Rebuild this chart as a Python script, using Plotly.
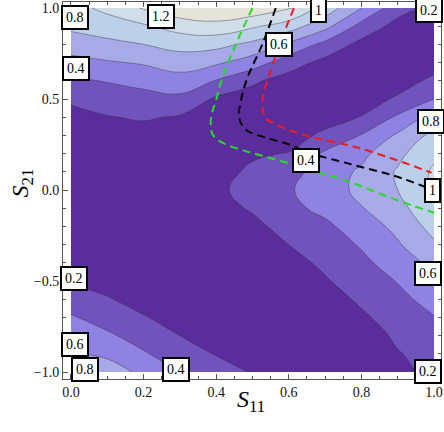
import plotly.graph_objects as go

# grid of the map (columns = S11, rows = S21 from top to bottom)
s11 = [0.0, 0.1, 0.2, 0.3, 0.4, 0.5, 0.6, 0.7, 0.8, 0.9, 1.0]
s21_top_down = [1.0, 0.9, 0.8, 0.7, 0.6, 0.5, 0.4, 0.3, 0.2, 0.1, 0.0,
                -0.1, -0.2, -0.3, -0.4, -0.5, -0.6, -0.7, -0.8, -0.9, -1.0]

col_00 = [0.93, 0.84, 0.70, 0.53, 0.37, 0.24, 0.12, 0.06, 0.03, 0.02, 0.02, 0.02, 0.03, 0.06, 0.11, 0.18, 0.30, 0.42, 0.52, 0.63, 0.82]
col_01 = [1.05, 0.90, 0.75, 0.58, 0.41, 0.30, 0.19, 0.12, 0.07, 0.04, 0.03, 0.03, 0.04, 0.06, 0.10, 0.15, 0.21, 0.32, 0.43, 0.55, 0.73]
col_02 = [1.22, 0.97, 0.80, 0.62, 0.46, 0.33, 0.22, 0.12, 0.07, 0.04, 0.03, 0.03, 0.04, 0.05, 0.07, 0.10, 0.15, 0.21, 0.32, 0.42, 0.54]
col_03 = [1.35, 1.08, 0.87, 0.69, 0.52, 0.35, 0.18, 0.10, 0.06, 0.04, 0.03, 0.03, 0.03, 0.04, 0.05, 0.07, 0.10, 0.14, 0.20, 0.30, 0.40]
col_04 = [1.38, 1.13, 0.86, 0.63, 0.39, 0.17, 0.10, 0.06, 0.07, 0.12, 0.16, 0.13, 0.09, 0.06, 0.04, 0.04, 0.05, 0.08, 0.12, 0.19, 0.27]
col_05 = [1.34, 1.03, 0.75, 0.50, 0.23, 0.12, 0.06, 0.08, 0.17, 0.24, 0.27, 0.22, 0.15, 0.10, 0.06, 0.04, 0.04, 0.06, 0.09, 0.13, 0.19]
col_06 = [1.23, 0.90, 0.56, 0.29, 0.12, 0.06, 0.05, 0.10, 0.21, 0.32, 0.38, 0.35, 0.27, 0.20, 0.13, 0.08, 0.05, 0.04, 0.05, 0.07, 0.10]
col_07 = [0.92, 0.66, 0.34, 0.14, 0.06, 0.04, 0.10, 0.25, 0.43, 0.50, 0.50, 0.45, 0.36, 0.29, 0.24, 0.18, 0.12, 0.07, 0.04, 0.04, 0.06]
col_08 = [0.60, 0.33, 0.14, 0.05, 0.04, 0.10, 0.21, 0.41, 0.55, 0.63, 0.65, 0.59, 0.50, 0.42, 0.35, 0.30, 0.23, 0.17, 0.11, 0.06, 0.04]
col_09 = [0.28, 0.13, 0.06, 0.04, 0.10, 0.23, 0.43, 0.63, 0.75, 0.82, 0.80, 0.73, 0.65, 0.58, 0.50, 0.41, 0.34, 0.28, 0.23, 0.19, 0.18]
col_10 = [0.15, 0.08, 0.10, 0.10, 0.25, 0.40, 0.68, 0.86, 0.96, 1.03, 1.02, 0.96, 0.87, 0.77, 0.65, 0.57, 0.48, 0.39, 0.32, 0.26, 0.22]

# dashed curves
green_s11 = [0.500, 0.454, 0.417, 0.399, 0.390, 0.385, 0.390, 0.417, 0.481, 0.564, 0.655, 0.773, 0.892, 1.000]
green_s21 = [1.000, 0.800, 0.617, 0.489, 0.434, 0.379, 0.306, 0.260, 0.214, 0.168, 0.113, 0.040, -0.051, -0.125]
black_s11 = [0.564, 0.527, 0.486, 0.468, 0.463, 0.481, 0.536, 0.600, 0.655, 0.773, 0.892, 0.993]
black_s21 = [1.000, 0.800, 0.617, 0.489, 0.397, 0.333, 0.288, 0.251, 0.205, 0.141, 0.077, 0.004]
red_s11 = [0.614, 0.582, 0.550, 0.527, 0.536, 0.573, 0.655, 0.773, 0.892, 0.993]
red_s21 = [1.000, 0.837, 0.654, 0.489, 0.397, 0.352, 0.295, 0.242, 0.168, 0.095]

# contour labels (text, S11, S21)
label_text = ["0.8", "1.2", "1", "0.2", "0.6", "0.4", "0.8", "0.4", "1", "0.6", "0.2", "0.6", "0.8", "0.4", "0.2"]
label_s11 = [0.012, 0.249, 0.682, 0.986, 0.573, 0.014, 0.992, 0.647, 0.995, 0.984, 0.008, 0.011, 0.038, 0.288, 0.984]
label_s21 = [0.950, 0.956, 0.984, 0.984, 0.797, 0.665, 0.379, 0.165, 0.000, -0.456, -0.484, -0.846, -0.984, -0.984, -0.995]

band_colors = ["#5b2c9c", "#7153be", "#8f82e2", "#a7aae6", "#bdd0ea", "#d1deea", "#e6e4da"]

cols = [col_00, col_01, col_02, col_03, col_04, col_05, col_06, col_07, col_08, col_09, col_10]
z = [list(r) for r in zip(*cols)][::-1]
s21 = s21_top_down[::-1]

n = len(band_colors)
cscale = []
for i, c in enumerate(band_colors):
    cscale.append([i / n, c])
    cscale.append([(i + 1) / n, c])

SERIF = "Liberation Serif"

fig = go.Figure()
fig.add_trace(go.Contour(
    x=s11, y=s21, z=z,
    colorscale=cscale, showscale=False,
    contours=dict(start=0.2, end=1.2, size=0.2, coloring="fill"),
    line=dict(color="rgba(50,50,60,0.55)", width=0.8, smoothing=1.3),
    hoverinfo="skip",
))

for xs, ys, col in [(green_s11, green_s21, "#22dd22"),
                    (black_s11, black_s21, "#000000"),
                    (red_s11, red_s21, "#ee1c1c")]:
    fig.add_trace(go.Scatter(
        x=xs, y=ys, mode="lines",
        line=dict(color=col, width=2, dash="8px,5px", shape="spline", smoothing=1.0),
        hoverinfo="skip", showlegend=False,
    ))

for t, x, y in zip(label_text, label_s11, label_s21):
    fig.add_annotation(
        x=x, y=y, xref="x", yref="y", text=t, showarrow=False,
        font=dict(family=SERIF, size=14, color="black"),
        bgcolor="white", bordercolor="black", borderwidth=2, borderpad=3,
    )

# axis titles
fig.add_annotation(x=0.497, y=-0.103, xref="paper", yref="paper",
                   text="<i>S</i><sub>11</sub>", showarrow=False,
                   font=dict(family=SERIF, size=24, color="black"))
fig.add_annotation(x=-0.108, y=0.519, xref="paper", yref="paper",
                   xanchor="center", yanchor="middle",
                   text="<i>S</i><sub>21</sub>", showarrow=False, textangle=-90,
                   font=dict(family=SERIF, size=24, color="black"))

axis_common = dict(
    showgrid=False, zeroline=False, showline=True, linecolor="#555", linewidth=1,
    mirror="ticks", ticks="inside", ticklen=5, tickcolor="#555",
    tickfont=dict(family=SERIF, size=14, color="#111"), tickformat=".1f",
    ticklabeloverflow="allow",
)
fig.update_xaxes(range=[-0.0219, 1.0192], tickvals=[0, 0.2, 0.4, 0.6, 0.8, 1.0],
                 minor=dict(ticks="inside", ticklen=3, dtick=0.05, tick0=0, tickcolor="#555"),
                 **axis_common)
fig.update_yaxes(range=[-1.038, 1.033], tickvals=[-1.0, -0.5, 0.0, 0.5, 1.0],
                 minor=dict(ticks="inside", ticklen=3, dtick=0.1, tick0=0, tickcolor="#555"),
                 **axis_common)

fig.update_layout(
    width=444, height=432,
    margin=dict(l=63, r=1, t=1, b=53),
    plot_bgcolor="white", paper_bgcolor="white",
    showlegend=False,
)

# the page body has a default margin; drop it so the figure sits at the corner
fig.write_html("out.html", config={"displayModeBar": False},
               post_script="document.body.style.margin='0';document.body.style.overflow='hidden';")
